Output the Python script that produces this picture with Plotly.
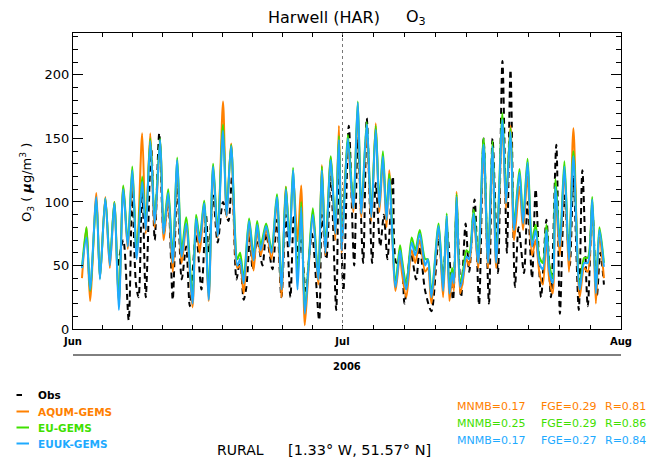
import pandas as pd
import plotly.graph_objects as go

# ---------------- data (days since 2006-06-01 00:00) ----------------
model_t = [1.0, 1.5, 1.9, 2.6, 3.0, 3.6, 4.1, 4.6, 5.1, 5.6,
           6.1, 6.6, 7.1, 7.7, 8.1, 8.6, 9.1, 9.7, 10.1, 10.6,
           11.1, 11.6, 12.1, 12.6, 13.3, 13.7, 14.1, 14.6, 15.1, 15.6,
           16.1, 16.7, 17.1, 17.6, 18.3, 18.6, 19.0, 19.6, 20.1, 20.5,
           20.9, 21.5, 22.1, 22.7, 23.2, 23.7, 24.1, 24.5, 25.0, 25.4,
           25.8, 26.2, 26.7, 27.3, 27.7, 28.1, 28.7, 29.2, 29.6, 29.9,
           30.25, 30.6, 31.2, 31.7, 32.1, 32.7, 33.2, 33.7, 34.1, 34.5,
           34.9, 35.2, 35.9, 36.4, 36.6, 37.1, 37.7, 38.1, 38.6, 39.2,
           39.5, 39.9, 40.7, 41.2, 41.6, 41.9, 42.2, 42.4, 42.7, 43.1,
           43.4, 43.8, 44.1, 44.6, 45.1, 45.7, 46.2, 46.7, 47.1, 47.8,
           48.2, 48.7, 49.1, 49.7, 50.1, 50.6, 51.1, 51.5, 51.9, 52.3,
           52.7, 53.0, 53.4, 53.7, 54.2, 54.7, 55.2, 55.7, 56.4, 56.9,
           57.3, 57.8, 58.2, 58.6, 59.1]

euuk = [48, 72, 31, 104, 39, 103, 50, 99, 15, 110,
        65, 125, 55, 116, 78, 148, 83, 149, 75, 107,
        52, 133, 57, 83, 20, 87, 68, 99, 23, 128,
        73, 156, 89, 144, 50, 55, 36, 85, 54, 82,
        62, 81, 60, 104, 31, 110, 65, 125, 31, 96,
        12, 47, 90, 39, 125, 60, 133, 75, 149, 62,
        107, 150, 95, 178, 91, 161, 88, 157, 96, 136,
        86, 118, 33, 62, 52, 31, 68, 58, 75, 50,
        55, 25, 81, 30, 89, 28, 44, 36, 104, 33,
        41, 57, 55, 91, 52, 145, 52, 144, 52, 165,
        99, 155, 78, 123, 83, 131, 65, 78, 52, 47,
        78, 47, 36, 112, 65, 128, 54, 136, 31, 52,
        52, 102, 28, 78, 49]

aqum = [40, 80, 22, 107, 40, 104, 48, 100, 20, 112,
        63, 118, 58, 154, 75, 154, 80, 147, 70, 103,
        45, 128, 52, 80, 17, 85, 60, 97, 22, 125,
        72, 179, 88, 146, 48, 50, 28, 80, 46, 78,
        58, 78, 55, 100, 25, 112, 68, 120, 70, 113,
        3, 44, 92, 35, 129, 58, 135, 70, 160, 60,
        115, 145, 92, 172, 88, 155, 85, 162, 92, 132,
        80, 125, 30, 58, 45, 25, 62, 52, 70, 45,
        48, 20, 78, 25, 87, 22, 40, 30, 108, 28,
        38, 55, 50, 88, 48, 140, 48, 138, 48, 160,
        95, 160, 70, 112, 78, 120, 58, 70, 45, 35,
        72, 40, 28, 105, 58, 125, 45, 158, 25, 48,
        45, 100, 20, 72, 40]

eu = [48, 80, 30, 102, 40, 103, 55, 100, 22, 113,
      68, 128, 60, 120, 82, 150, 88, 150, 80, 110,
      58, 135, 62, 88, 25, 90, 72, 101, 28, 130,
      78, 161, 92, 145, 55, 60, 40, 87, 58, 85,
      66, 83, 63, 106, 35, 112, 70, 127, 40, 100,
      15, 50, 95, 42, 128, 65, 136, 80, 152, 66,
      110, 153, 100, 179, 95, 163, 92, 160, 100, 140,
      90, 122, 38, 66, 56, 35, 72, 62, 78, 55,
      55, 28, 83, 33, 91, 32, 48, 40, 106, 37,
      45, 62, 60, 94, 57, 150, 57, 148, 57, 170,
      104, 158, 83, 126, 88, 134, 70, 82, 57, 52,
      82, 52, 40, 118, 70, 132, 58, 140, 35, 56,
      56, 104, 32, 80, 52]

obs_t = [5.0, 5.6, 6.2, 6.6, 7.0, 7.3, 7.7, 8.1, 8.7, 9.1,
         9.6, 10.1, 10.6, 11.1, 11.6, 12.1, 12.6, 13.0, 13.7, 14.3,
         14.8, 15.1, 15.6, 16.1, 16.7, 17.3, 17.7, 18.2, 18.6, 19.0,
         19.3, 19.7, 20.0, 20.5, 21.1, 21.5, 22.2, 22.7, 23.2, 23.7,
         24.2, 24.6, 25.1, 25.4, 25.9, 26.6, 27.4, 27.7, 28.2, 28.7,
         29.3, 29.6, 30.1, 30.7, 31.3, 31.7, 32.3, 32.7, 33.3, 33.7,
         34.2, 34.6, 35.0, 35.6, 36.0, 36.5, 36.9, 37.6, 38.2, 38.6,
         39.2, 39.9, 40.7, 41.2, 41.6, 42.3, 42.7, 43.2, 43.7, 44.1,
         44.7, 45.2, 45.7, 46.3, 46.7, 47.3, 47.8, 48.3, 48.7, 49.2,
         49.6, 50.2, 50.6, 51.1, 51.5, 52.1, 52.7, 53.2, 53.8, 54.2,
         54.7, 55.3, 55.7, 56.3, 56.7, 57.3, 57.8, 58.3, 58.7, 59.1]

obs = [50, 70, 7, 110, 36, 25, 115, 25, 144, 70,
       154, 75, 100, 23, 115, 39, 65, 18, 75, 31,
       90, 60, 105, 68, 100, 85, 120, 39, 55, 23,
       33, 73, 47, 70, 50, 75, 47, 86, 25, 90,
       25, 90, 55, 70, 30, 75, 7, 90, 55, 120,
       15, 130, 30, 160, 50, 150, 52, 166, 52, 115,
       65, 90, 55, 120, 52, 55, 20, 60, 39, 65,
       30, 14, 70, 40, 80, 23, 95, 25, 83, 45,
       102, 19, 150, 20, 150, 44, 211, 60, 204, 33,
       80, 44, 100, 40, 110, 25, 86, 25, 145, 12,
       105, 50, 120, 15, 125, 18, 95, 25, 60, 35]

series_names = ["Obs", "AQUM-GEMS", "EU-GEMS", "EUUK-GEMS"]
stats_mnmb = ["0.17", "0.25", "0.17"]
stats_fge = ["0.29", "0.29", "0.27"]
stats_r = ["0.81", "0.86", "0.84"]
month_labels = ["Jun", "Jul", "Aug"]

# ---------------- styling ----------------
ORANGE = "#FF8000"
GREEN = "#3FE000"
BLUE = "#1EAAFF"
FONT = "DejaVu Sans"

base = pd.Timestamp("2006-06-01")
to_dt = lambda ts: [base + pd.to_timedelta(t, unit="D") for t in ts]

fig = go.Figure()
fig.add_trace(go.Scatter(x=to_dt(obs_t), y=obs, mode="lines", name=series_names[0],
                         line=dict(color="black", width=2, dash="6px,4px", shape="spline", smoothing=0.8)))
for vals, col, nm in [(aqum, ORANGE, series_names[1]), (eu, GREEN, series_names[2]), (euuk, BLUE, series_names[3])]:
    fig.add_trace(go.Scatter(x=to_dt(model_t), y=vals, mode="lines", name=nm,
                             line=dict(color=col, width=2, shape="spline", smoothing=0.8)))

# x ticks: months labelled, 9 unlabelled subdivisions per month
months = [pd.Timestamp("2006-06-01"), pd.Timestamp("2006-07-01"), pd.Timestamp("2006-08-01")]
minor_vals = []
for i in range(2):
    span = months[i + 1] - months[i]
    for k in range(1, 9):
        minor_vals.append(months[i] + span * k / 9)

fig.update_layout(
    width=651, height=460,
    margin=dict(l=73, r=30, t=33, b=131),
    paper_bgcolor="white", plot_bgcolor="white",
    showlegend=False,
    font=dict(family=FONT, color="black"),
    xaxis=dict(range=[months[0], months[2]], tickmode="array", tickvals=months, ticktext=month_labels,
               ticks="inside", ticklen=4, tickcolor="black", showgrid=False, zeroline=False,
               minor=dict(tickmode="array", tickvals=minor_vals, ticks="inside", ticklen=4,
                          tickcolor="black", showgrid=False),
               showline=True, linecolor="black", linewidth=1, mirror="ticks",
               ticklabelstandoff=3,
               tickfont=dict(family=FONT, size=10, color="black", weight="bold")),
    yaxis=dict(range=[0, 233], dtick=50, tick0=0, ticks="inside", ticklen=10, tickcolor="black",
               minor=dict(dtick=10, ticks="inside", ticklen=5, tickcolor="black"),
               showgrid=False, zeroline=False, showline=True, linecolor="black", linewidth=1,
               mirror="ticks", tickfont=dict(family=FONT, size=13, color="black")),
)

# dotted line at Jul 1
fig.add_shape(type="line", xref="x", yref="paper", x0=months[1], x1=months[1], y0=0, y1=1,
              line=dict(color="#777777", width=1, dash="dot"))

def px_x(px):
    return (px - 73) / 548.0

def px_y(py):
    return (329 - py) / 296.0

ann = []
ann.append(dict(text="Harwell (HAR)", x=px_x(324), y=px_y(17), xanchor="center", yanchor="middle",
                font=dict(size=16, family=FONT)))
ann.append(dict(text="O<sub>3</sub>", x=px_x(404), y=px_y(17), xanchor="left", yanchor="middle",
                font=dict(size=16, family=FONT)))
ann.append(dict(text="O<sub>3</sub> ( <b><i>µ</i></b>g/m<sup>3</sup> )", x=px_x(27), y=px_y(183),
                textangle=-90, xanchor="center", yanchor="middle", font=dict(size=13, family=FONT)))
ann.append(dict(text="<b>2006</b>", x=0.5, y=px_y(366), xanchor="center", yanchor="middle",
                font=dict(size=10, family=FONT)))
fig.add_shape(type="line", xref="paper", yref="paper", x0=0, x1=1, y0=px_y(355), y1=px_y(355),
              line=dict(color="black", width=1))

# legend
leg_cols = ["black", ORANGE, GREEN, BLUE]
leg_y = [395, 411.5, 427.5, 443.5]
for nm, col, yy in zip(series_names, leg_cols, leg_y):
    x1 = 22 if nm == "Obs" else 29
    fig.add_shape(type="line", xref="paper", yref="paper", x0=px_x(16.5), x1=px_x(x1),
                  y0=px_y(yy), y1=px_y(yy), line=dict(color=col, width=2))
    ann.append(dict(text="<b>%s</b>" % nm, x=px_x(36), y=px_y(yy), xanchor="left", yanchor="middle",
                    font=dict(size=10.5, family=FONT, color=col)))

# stats
stat_y = [406.5, 423.5, 440]
for i, col in enumerate([ORANGE, GREEN, BLUE]):
    ann.append(dict(text="MNMB=%s" % stats_mnmb[i], x=px_x(455), y=px_y(stat_y[i]), xanchor="left",
                    yanchor="middle", font=dict(size=11, family=FONT, color=col)))
    ann.append(dict(text="FGE=%s" % stats_fge[i], x=px_x(539), y=px_y(stat_y[i]), xanchor="left",
                    yanchor="middle", font=dict(size=11, family=FONT, color=col)))
    ann.append(dict(text="R=%s" % stats_r[i], x=px_x(603), y=px_y(stat_y[i]), xanchor="left",
                    yanchor="middle", font=dict(size=11, family=FONT, color=col)))

ann.append(dict(text="RURAL", x=px_x(215), y=px_y(450), xanchor="left", yanchor="middle",
                font=dict(size=14, family=FONT)))
ann.append(dict(text="[1.33° W, 51.57° N]", x=px_x(286), y=px_y(450), xanchor="left", yanchor="middle",
                font=dict(size=14.5, family=FONT)))

for a in ann:
    a.update(xref="paper", yref="paper", showarrow=False)
fig.update_layout(annotations=ann)

fig.write_html("out.html", config={"displayModeBar": False},
               post_script="document.body.style.margin='0';document.body.style.overflow='hidden';")
